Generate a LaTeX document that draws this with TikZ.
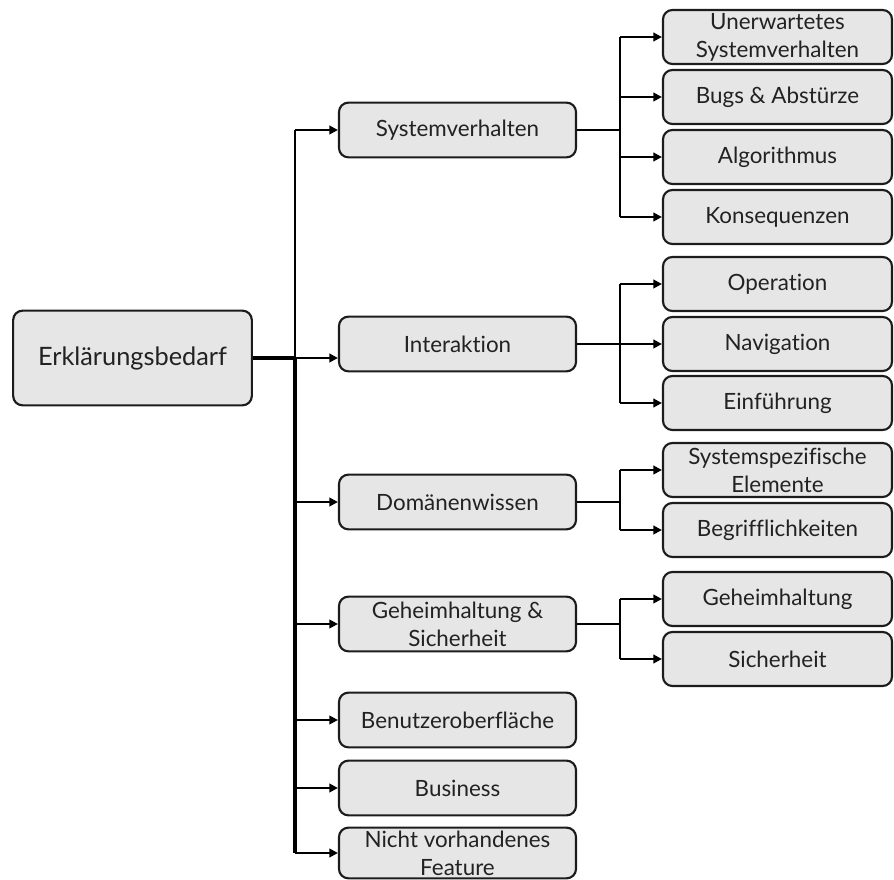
\documentclass[tikz,border=0pt]{standalone}
\usepackage{fontspec}
\setmainfont{Lato}[Ligatures={NoCommon}]
\usetikzlibrary{arrows.meta}

\definecolor{boxfill}{HTML}{E6E6E6}
\definecolor{boxline}{HTML}{1C1C1C}
\definecolor{txt}{HTML}{222222}

\tikzset{
  cat/.style={draw=boxline, fill=boxfill, line width=1.6pt, rounded corners=7pt,
    text=txt, align=center, inner sep=0pt,
    font=\fontsize{16.8pt}{21pt}\selectfont},
  rootbox/.style={cat, minimum width=179pt, minimum height=71pt,
    font=\fontsize{19pt}{23pt}\selectfont},
  lvlone/.style={cat, minimum width=177.75pt, minimum height=41pt},
  lvltwo/.style={cat, minimum width=171.75pt, minimum height=40.5pt},
  link/.style={draw=black, line width=1.7pt},
  heavy/.style={draw=black, line width=2.5pt},
  arr/.style={link, -{Triangle[length=6.5pt,width=6.5pt]}}
}

\begin{document}
\begin{tikzpicture}[x=0.75pt,y=-0.75pt]
\useasboundingbox (0,0) rectangle (894,880);

% root
\node[rootbox] (root) at (132.5,358) {Erklärungsbedarf};

% first level
\node[lvlone] (sys)  at (457.5,130) {Systemverhalten};
\node[lvlone] (int)  at (457.5,344) {Interaktion};
\node[lvlone] (dom)  at (457.5,502) {Domänenwissen};
\node[lvlone] (geh)  at (457.5,624) {Geheimhaltung \&\\Sicherheit};
\node[lvlone] (ben)  at (457.5,720) {Benutzeroberfläche};
\node[lvlone] (bus)  at (457.5,788) {Business};
\node[lvlone, minimum height=38pt] (nvf) at (457.5,853) {Nicht vorhandenes\\Feature};

% second level
\node[lvltwo] (unerw) at (777.5,37)  {Unerwartetes\\Systemverhalten};
\node[lvltwo] (bugs)  at (777.5,97)  {Bugs \& Abstürze};
\node[lvltwo] (algo)  at (777.5,157) {Algorithmus};
\node[lvltwo] (kons)  at (777.5,217) {Konsequenzen};
\node[lvltwo] (oper)  at (777.5,284) {Operation};
\node[lvltwo] (navi)  at (777.5,344) {Navigation};
\node[lvltwo] (einf)  at (777.5,403) {Einführung};
\node[lvltwo] (spez)  at (777.5,470) {Systemspezifische\\Elemente};
\node[lvltwo] (begr)  at (777.5,530) {Begrifflichkeiten};
\node[lvltwo] (gheim) at (777.5,599) {Geheimhaltung};
\node[lvltwo] (sich)  at (777.5,659) {Sicherheit};

% trunk and branch columns
\coordinate (trunk) at (295,358);
\coordinate (sub) at (620,0);

% main trunk
\draw[heavy] (root.east) -- (trunk);
\draw[link] (trunk |- sys.west) -- (trunk);
\draw[line width=2.3pt] (trunk) -- (trunk |- nvf.west);
\draw[arr] (trunk) -- (int.west |- trunk);
\foreach \n in {sys,dom,geh,ben,bus,nvf}
  \draw[arr] (trunk |- \n.west) -- (\n.west);

% Systemverhalten branch
\draw[heavy, line width=2.1pt] (sys.east) -- (sub |- sys.east);
\draw[link] (sub |- unerw.west) -- (sub |- kons.west);
\foreach \n in {unerw,bugs,algo,kons}
  \draw[arr] (sub |- \n.west) -- (\n.west);

% Interaktion branch
\draw[heavy, line width=2.1pt] (int.east) -- (sub |- int.east);
\draw[link] (sub |- oper.west) -- (sub |- einf.west);
\foreach \n in {oper,navi,einf}
  \draw[arr] (sub |- \n.west) -- (\n.west);

% Domänenwissen branch
\draw[link] (dom.east) -- (sub |- dom.east);
\draw[link] (sub |- spez.west) -- (sub |- begr.west);
\foreach \n in {spez,begr}
  \draw[arr] (sub |- \n.west) -- (\n.west);

% Geheimhaltung & Sicherheit branch
\draw[link] (geh.east) -- (sub |- geh.east);
\draw[link] (sub |- gheim.west) -- (sub |- sich.west);
\foreach \n in {gheim,sich}
  \draw[arr] (sub |- \n.west) -- (\n.west);
\end{tikzpicture}
\end{document}
